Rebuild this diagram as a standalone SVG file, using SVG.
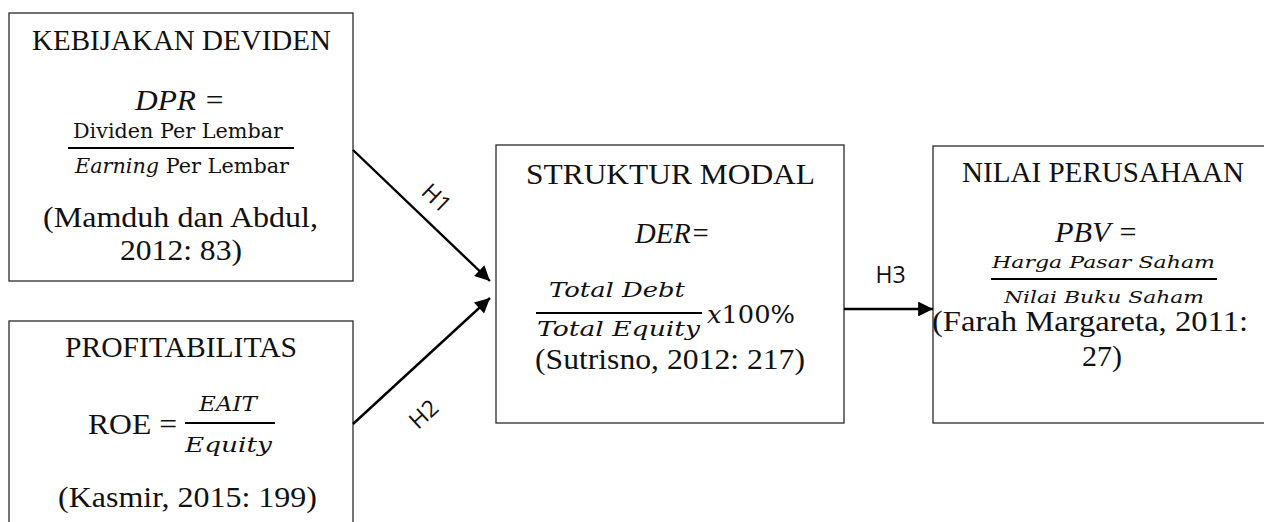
<svg xmlns="http://www.w3.org/2000/svg" width="1264" height="522" viewBox="0 0 1264 522">
  <style>
    .box { fill: #ffffff; stroke: #2a2a2a; stroke-width: 1.3; }
    .t { font-family: "Liberation Serif", "Times New Roman", serif; font-size: 29.5px; fill: #111; text-anchor: middle; }
    .ti { font-family: "Liberation Serif", "Times New Roman", serif; font-size: 29.5px; font-style: italic; fill: #111; text-anchor: middle; }
    .m { font-family: "DejaVu Serif", serif; font-size: 20.5px; fill: #111; text-anchor: middle; }
    .mi { font-family: "DejaVu Serif", serif; font-size: 20.5px; font-style: italic; fill: #111; text-anchor: middle; }
    .small { font-size: 16.5px; }
    .big { font-size: 24px; }
    .start { text-anchor: start; }
    .frac { stroke: #000; stroke-width: 2.2; }
    .conn { stroke: #000; stroke-width: 2.4; fill: none; }
    .lbl { font-family: "Open Sans", "DejaVu Sans", sans-serif; font-size: 23px; fill: #111; text-anchor: middle; }
  </style>
  <defs>
    <marker id="arrow" viewBox="0 0 10 10" refX="10" refY="5" markerWidth="7" markerHeight="6.2" markerUnits="strokeWidth" orient="auto">
      <path d="M0,0 L10,5 L0,10 Z" fill="#000"/>
    </marker>
  </defs>

  <rect width="1264" height="522" fill="#ffffff"/>

  <!-- Dividend policy -->
  <g id="kebijakan-deviden">
    <rect class="box" x="9" y="13" width="344" height="268"/>
    <text class="t" x="181.5" y="50" textLength="299" lengthAdjust="spacingAndGlyphs">KEBIJAKAN DEVIDEN</text>
    <text class="ti" x="180" y="110" textLength="90" lengthAdjust="spacingAndGlyphs">DPR =</text>
    <text class="m" x="178" y="138" textLength="210" lengthAdjust="spacingAndGlyphs">Dividen Per Lembar</text>
    <line class="frac" x1="68" y1="148" x2="294" y2="148"/>
    <text class="m" x="182" y="173" textLength="214" lengthAdjust="spacingAndGlyphs"><tspan font-style="italic">Earning</tspan> Per Lembar</text>
    <text class="t" x="180.5" y="227" textLength="275" lengthAdjust="spacingAndGlyphs">(Mamduh dan Abdul,</text>
    <text class="t" x="181" y="260" textLength="122" lengthAdjust="spacingAndGlyphs">2012: 83)</text>
  </g>

  <!-- Profitability -->
  <g id="profitabilitas">
    <rect class="box" x="9" y="321" width="344" height="210"/>
    <text class="t" x="181" y="357" textLength="232" lengthAdjust="spacingAndGlyphs">PROFITABILITAS</text>
    <text class="t start" x="88" y="434" textLength="89" lengthAdjust="spacingAndGlyphs">ROE =</text>
    <text class="mi" x="228" y="411" textLength="58" lengthAdjust="spacingAndGlyphs">EAIT</text>
    <line class="frac" x1="185" y1="423" x2="275" y2="423"/>
    <text class="mi" x="228.5" y="452" textLength="87" lengthAdjust="spacingAndGlyphs">Equity</text>
    <text class="t" x="187.5" y="507" textLength="259" lengthAdjust="spacingAndGlyphs">(Kasmir, 2015: 199)</text>
  </g>

  <!-- Capital structure -->
  <g id="struktur-modal">
    <rect class="box" x="496" y="145" width="348" height="278"/>
    <text class="t" x="670.5" y="184" textLength="289" lengthAdjust="spacingAndGlyphs">STRUKTUR MODAL</text>
    <text class="ti" x="672.5" y="243" textLength="75" lengthAdjust="spacingAndGlyphs">DER=</text>
    <text class="mi" x="617" y="297" textLength="136" lengthAdjust="spacingAndGlyphs">Total Debt</text>
    <line class="frac" x1="536" y1="313" x2="702" y2="313"/>
    <text class="mi" x="618.5" y="336" textLength="163" lengthAdjust="spacingAndGlyphs">Total Equity</text>
    <text class="m big start" x="707" y="323" textLength="88" lengthAdjust="spacingAndGlyphs"><tspan font-style="italic">x</tspan>100%</text>
    <text class="t" x="670" y="369" textLength="270" lengthAdjust="spacingAndGlyphs">(Sutrisno, 2012: 217)</text>
  </g>

  <!-- Firm value -->
  <g id="nilai-perusahaan">
    <rect class="box" x="933" y="146" width="340" height="277"/>
    <text class="t" x="1103" y="182" textLength="282" lengthAdjust="spacingAndGlyphs">NILAI PERUSAHAAN</text>
    <text class="ti" x="1096.5" y="242" textLength="83" lengthAdjust="spacingAndGlyphs">PBV =</text>
    <text class="mi small" x="1103.5" y="268" textLength="223" lengthAdjust="spacingAndGlyphs">Harga Pasar Saham</text>
    <line class="frac" x1="991" y1="279" x2="1217" y2="279"/>
    <text class="mi small" x="1104" y="303" textLength="200" lengthAdjust="spacingAndGlyphs">Nilai Buku Saham</text>
    <text class="t" x="1090" y="331" textLength="316" lengthAdjust="spacingAndGlyphs">(Farah Margareta, 2011:</text>
    <text class="t" x="1102" y="366" textLength="40" lengthAdjust="spacingAndGlyphs">27)</text>
  </g>

  <!-- Hypothesis paths -->
  <g id="connectors">
    <line class="conn" x1="353" y1="150" x2="490" y2="281" marker-end="url(#arrow)"/>
    <line class="conn" x1="353" y1="424" x2="490" y2="298" marker-end="url(#arrow)"/>
    <line class="conn" x1="844" y1="309" x2="933" y2="309" marker-end="url(#arrow)"/>
    <text class="lbl" transform="translate(431,204) rotate(43.7)">H1</text>
    <text class="lbl" transform="translate(429,420) rotate(-42.6)">H2</text>
    <text class="lbl" x="890.5" y="283">H3</text>
  </g>
</svg>
